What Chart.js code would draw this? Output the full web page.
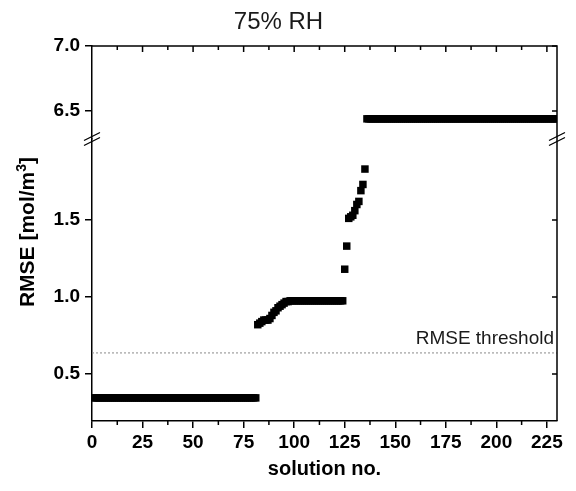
<!DOCTYPE html>
<html>
<head>
<meta charset="utf-8">
<script src="https://cdn.jsdelivr.net/npm/chart.js@4.4.1/dist/chart.umd.min.js"></script>
<style>
  html, body { margin: 0; padding: 0; background: #fff; }
  #wrap { width: 576px; height: 491px; }
</style>
</head>
<body>
<div id="wrap"><canvas id="rmseChart" width="576" height="491"></canvas></div>
<script>
// ==========================================
// DATA: RMSE of each solution (75% RH)
// ==========================================
const rmse = [
  // 1 - 81
  0.345, 0.345, 0.345, 0.345, 0.345, 0.345, 0.345, 0.345, 0.345, 0.345,
  0.345, 0.345, 0.345, 0.345, 0.345, 0.345, 0.345, 0.345, 0.345, 0.345,
  0.345, 0.345, 0.345, 0.345, 0.345, 0.345, 0.345, 0.345, 0.345, 0.345,
  0.345, 0.345, 0.345, 0.345, 0.345, 0.345, 0.345, 0.345, 0.345, 0.345,
  0.345, 0.345, 0.345, 0.345, 0.345, 0.345, 0.345, 0.345, 0.345, 0.345,
  0.345, 0.345, 0.345, 0.345, 0.345, 0.345, 0.345, 0.345, 0.345, 0.345,
  0.345, 0.345, 0.345, 0.345, 0.345, 0.345, 0.345, 0.345, 0.345, 0.345,
  0.345, 0.345, 0.345, 0.345, 0.345, 0.345, 0.345, 0.345, 0.345, 0.345,
  0.345,
  // 82 - 97
  0.82, 0.83, 0.84, 0.85, 0.85, 0.85, 0.86, 0.88, 0.90, 0.91,
  0.93, 0.94, 0.95, 0.96, 0.97, 0.97,
  // 98 - 124
  0.975, 0.975, 0.975, 0.975, 0.975, 0.975, 0.975, 0.975, 0.975, 0.975,
  0.975, 0.975, 0.975, 0.975, 0.975, 0.975, 0.975, 0.975, 0.975, 0.975,
  0.975, 0.975, 0.975, 0.975, 0.975, 0.975, 0.975,
  // 125 - 135
  1.18, 1.33, 1.51, 1.52, 1.53, 1.56, 1.60, 1.62, 1.69, 1.73, 1.83,
  // 136 - 230
  6.44, 6.44, 6.44, 6.44, 6.44, 6.44, 6.44, 6.44, 6.44, 6.44,
  6.44, 6.44, 6.44, 6.44, 6.44, 6.44, 6.44, 6.44, 6.44, 6.44,
  6.44, 6.44, 6.44, 6.44, 6.44, 6.44, 6.44, 6.44, 6.44, 6.44,
  6.44, 6.44, 6.44, 6.44, 6.44, 6.44, 6.44, 6.44, 6.44, 6.44,
  6.44, 6.44, 6.44, 6.44, 6.44, 6.44, 6.44, 6.44, 6.44, 6.44,
  6.44, 6.44, 6.44, 6.44, 6.44, 6.44, 6.44, 6.44, 6.44, 6.44,
  6.44, 6.44, 6.44, 6.44, 6.44, 6.44, 6.44, 6.44, 6.44, 6.44,
  6.44, 6.44, 6.44, 6.44, 6.44, 6.44, 6.44, 6.44, 6.44, 6.44,
  6.44, 6.44, 6.44, 6.44, 6.44, 6.44, 6.44, 6.44, 6.44, 6.44,
  6.44, 6.44, 6.44, 6.44, 6.44
];
// solution no. = position in the list (1..230)
const solutionNo = rmse.map((v, i) => i + 1);

const xTicks = [0, 25, 50, 75, 100, 125, 150, 175, 200, 225];
const yTicksLow = [0.5, 1.0, 1.5];
const yTicksHigh = [6.5, 7.0];
const rmseThreshold = 0.64;
const breakValue = 3; // values above go to the upper panel

// split points between the two parts of the broken axis
const lowPts = [], highPts = [];
solutionNo.forEach((n, i) => {
  const p = { x: n, y: rmse[i] };
  if (rmse[i] < breakValue) lowPts.push(p); else highPts.push(p);
});

const INK = '#000';
const AXIS_W = 1.5;
const FONT = "'Liberation Sans', Arial, sans-serif";

// ==========================================
// PLUGIN: frame, inner ticks, axis break, threshold
// ==========================================
const extrasPlugin = {
  id: 'extras',
  beforeDatasetsDraw(chart) {
    const ctx = chart.ctx, a = chart.chartArea;
    const y = chart.scales.yLow.getPixelForValue(rmseThreshold);
    ctx.save();
    ctx.strokeStyle = '#8a8a8a';
    ctx.lineWidth = 1;
    ctx.setLineDash([2, 2]);
    ctx.beginPath();
    ctx.moveTo(a.left, y + 0.5);
    ctx.lineTo(a.right, y + 0.5);
    ctx.stroke();
    ctx.setLineDash([]);
    ctx.fillStyle = '#1a1a1a';
    ctx.font = '19px ' + FONT;
    ctx.textAlign = 'right';
    ctx.textBaseline = 'alphabetic';
    ctx.fillText('RMSE threshold', a.right - 3, y - 8);
    ctx.restore();
  },
  afterDraw(chart) {
    const ctx = chart.ctx, a = chart.chartArea;
    const xs = chart.scales.x, yH = chart.scales.yHigh, yL = chart.scales.yLow;
    ctx.save();
    ctx.strokeStyle = INK;
    ctx.lineWidth = AXIS_W;

    // top and right frame
    ctx.beginPath();
    ctx.moveTo(a.left, a.top);
    ctx.lineTo(a.right, a.top);
    ctx.lineTo(a.right, a.bottom);
    ctx.stroke();

    // x ticks: top (inward) and bottom minor (outward)
    ctx.beginPath();
    xTicks.forEach(v => {
      const px = xs.getPixelForValue(v);
      if (v > 0) { ctx.moveTo(px, a.top); ctx.lineTo(px, a.top + 6); }
      const m = xs.getPixelForValue(v + 12.5);
      if (m < a.right) {
        ctx.moveTo(m, a.top); ctx.lineTo(m, a.top + 4);
        ctx.moveTo(m, a.bottom); ctx.lineTo(m, a.bottom + 4);
      }
    });
    // right axis ticks (inward)
    yTicksHigh.forEach(v => {
      const py = yH.getPixelForValue(v);
      ctx.moveTo(a.right, py); ctx.lineTo(a.right - 5, py);
    });
    yTicksLow.forEach(v => {
      const py = yL.getPixelForValue(v);
      ctx.moveTo(a.right, py); ctx.lineTo(a.right - 5, py);
    });
    ctx.stroke();

    // axis break marks //  (upper panel sits on top of the lower one)
    const by = yH.bottom;
    ctx.lineWidth = 1.3;
    ctx.beginPath();
    [a.left, a.right].forEach(bx => {
      [-2.5, 2.5].forEach(off => {
        ctx.moveTo(bx - 8, by + off + 4);
        ctx.lineTo(bx + 8, by + off - 4);
      });
    });
    ctx.stroke();

    // y title (spans both parts)
    ctx.fillStyle = INK;
    ctx.translate(28, 232);
    ctx.rotate(-Math.PI / 2);
    const base = 'RMSE [mol/m';
    ctx.font = 'bold 21px ' + FONT;
    const wBase = ctx.measureText(base).width;
    const wEnd = ctx.measureText(']').width;
    ctx.font = 'bold 14px ' + FONT;
    const wSup = ctx.measureText('3').width;
    const x0 = -(wBase + wSup + wEnd) / 2;
    ctx.textAlign = 'left';
    ctx.textBaseline = 'middle';
    ctx.font = 'bold 21px ' + FONT;
    ctx.fillText(base, x0, 0);
    ctx.fillText(']', x0 + wBase + wSup, 0);
    ctx.font = 'bold 14px ' + FONT;
    ctx.fillText('3', x0 + wBase, -6);
    ctx.restore();
  }
};

// ==========================================
// CHART
// ==========================================
const tickFont = { family: FONT, size: 19, weight: 'bold' };
const yCommon = {
  type: 'linear',
  position: 'left',
  stack: 'rmse',
  border: { color: INK, width: AXIS_W },
  grid: { drawOnChartArea: false, drawTicks: true, tickLength: 7, color: INK, lineWidth: AXIS_W },
  afterFit(scale) { scale.width = 92; }
};

new Chart(document.getElementById('rmseChart'), {
  type: 'scatter',
  data: {
    datasets: [
      { data: lowPts, yAxisID: 'yLow' },
      { data: highPts, yAxisID: 'yHigh' }
    ]
  },
  options: {
    responsive: false,
    animation: false,
    devicePixelRatio: 1,
    layout: { padding: { left: 0, right: 19, top: 0, bottom: 0 } },
    elements: {
      point: { pointStyle: 'rect', radius: 5.3, hoverRadius: 5.3, backgroundColor: INK, borderWidth: 0 }
    },
    datasets: { scatter: { clip: 0 } },
    plugins: {
      legend: { display: false },
      tooltip: { enabled: false },
      title: {
        display: true,
        text: '75% RH',
        color: '#1a1a1a',
        font: { family: FONT, size: 24, weight: 'normal' },
        padding: { top: 8, bottom: 9.2 }
      }
    },
    scales: {
      // stacked axes are laid out bottom-up in this order
      yLow: Object.assign({}, yCommon, {
        min: 0.195, max: 2.025, stackWeight: 282,
        afterBuildTicks(scale) { scale.ticks = yTicksLow.map(v => ({ value: v })); },
        ticks: { color: INK, font: tickFont, padding: 5, callback: v => v.toFixed(1) }
      }),
      yHigh: Object.assign({}, yCommon, {
        min: 6.285, max: 7.0, stackWeight: 93,
        afterBuildTicks(scale) { scale.ticks = yTicksHigh.map(v => ({ value: v })); },
        ticks: { color: INK, font: tickFont, padding: 5, callback: v => v.toFixed(1) }
      }),
      x: {
        type: 'linear',
        position: 'bottom',
        min: 0, max: 230,
        border: { color: INK, width: AXIS_W },
        grid: { drawOnChartArea: false, drawTicks: true, tickLength: 7, color: INK, lineWidth: AXIS_W },
        afterBuildTicks(scale) { scale.ticks = xTicks.map(v => ({ value: v })); },
        afterFit(scale) { scale.height = 70; },
        ticks: { color: INK, font: tickFont, padding: 3, maxRotation: 0, autoSkip: false },
        title: {
          display: true,
          text: 'solution no.',
          color: INK,
          font: { family: FONT, size: 20, weight: 'bold' },
          padding: { top: 0, bottom: 10 }
        }
      }
    }
  },
  plugins: [extrasPlugin]
});
</script>
</body>
</html>
